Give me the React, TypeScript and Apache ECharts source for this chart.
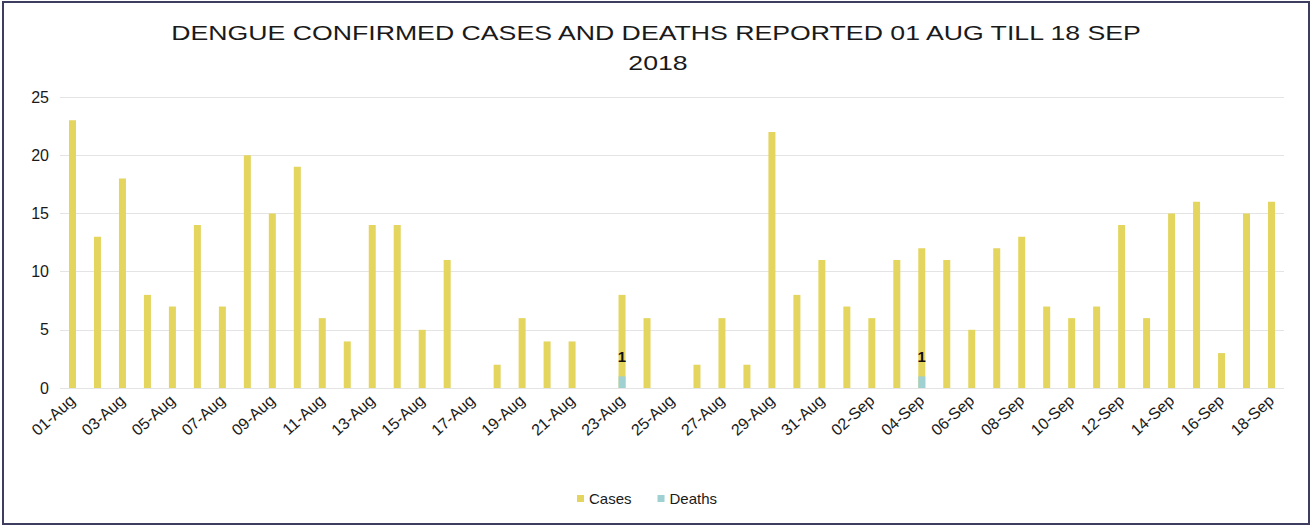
import React, { useEffect, useRef } from "react";
import * as echarts from "echarts";

const categories = [
  "01-Aug","02-Aug","03-Aug","04-Aug","05-Aug","06-Aug","07-Aug","08-Aug","09-Aug","10-Aug",
  "11-Aug","12-Aug","13-Aug","14-Aug","15-Aug","16-Aug","17-Aug","18-Aug","19-Aug","20-Aug",
  "21-Aug","22-Aug","23-Aug","24-Aug","25-Aug","26-Aug","27-Aug","28-Aug","29-Aug","30-Aug",
  "31-Aug","01-Sep","02-Sep","03-Sep","04-Sep","05-Sep","06-Sep","07-Sep","08-Sep","09-Sep",
  "10-Sep","11-Sep","12-Sep","13-Sep","14-Sep","15-Sep","16-Sep","17-Sep","18-Sep",
];

const cases = [
  23, 13, 18, 8, 7, 14, 7, 20, 15, 19,
  6, 4, 14, 14, 5, 11, 0, 2, 6, 4,
  4, 0, 8, 6, 0, 2, 6, 2, 22, 8,
  11, 7, 6, 11, 12, 11, 5, 12, 13, 7,
  6, 7, 14, 6, 15, 16, 3, 15, 16,
];

const deaths = [
  0, 0, 0, 0, 0, 0, 0, 0, 0, 0,
  0, 0, 0, 0, 0, 0, 0, 0, 0, 0,
  0, 0, 1, 0, 0, 0, 0, 0, 0, 0,
  0, 0, 0, 0, 1, 0, 0, 0, 0, 0,
  0, 0, 0, 0, 0, 0, 0, 0, 0,
];

const yTicks = { min: 0, max: 25, interval: 5 };
const titleLines = ["DENGUE CONFIRMED CASES AND DEATHS REPORTED 01 AUG TILL 18 SEP", "2018"];

export default function App() {
  const ref = useRef<HTMLDivElement>(null);
  useEffect(() => {
    if (!ref.current) return;
    const chart = echarts.init(ref.current, null, { renderer: "svg" });
    const font = "Liberation Sans, Arial, sans-serif";
    chart.setOption({
      animation: false,
      backgroundColor: "#ffffff",
      textStyle: { fontFamily: font },
      legend: {
        bottom: 16,
        left: 572,
        itemWidth: 7,
        itemHeight: 7,
        itemGap: 26,
        icon: "rect",
        textStyle: { fontFamily: font, fontSize: 15, color: "#1a1a1a" },
        data: ["Cases", "Deaths"],
      },
      grid: { left: 60, right: 28, top: 97, bottom: 139, containLabel: false },
      xAxis: {
        type: "category",
        data: categories,
        axisTick: { show: false },
        axisLine: { show: false },
        axisLabel: {
          interval: 1,
          rotate: 42,
          fontSize: 16,
          color: "#1a1a1a",
          margin: 10,
          fontFamily: font,
        },
      },
      yAxis: {
        type: "value",
        min: yTicks.min,
        max: yTicks.max,
        interval: yTicks.interval,
        axisLine: { show: false },
        axisTick: { show: false },
        axisLabel: { fontSize: 16, color: "#1a1a1a", margin: 11, fontFamily: font },
        splitLine: { lineStyle: { color: "#e4e4e4", width: 1 } },
      },
      series: [
        {
          name: "Cases",
          type: "bar",
          data: cases,
          barWidth: 7,
          barGap: "-100%",
          itemStyle: { color: "#e3d55e" },
        },
        {
          name: "Deaths",
          type: "bar",
          data: deaths,
          barWidth: 7,
          barGap: "-100%",
          itemStyle: { color: "#9fd0d2" },
          label: {
            show: true,
            position: "top",
            distance: 12,
            color: "#111",
            fontWeight: "bold",
            fontSize: 15,
            fontFamily: font,
            formatter: (p: any) => (p.value ? String(p.value) : ""),
          },
        },
      ],
      graphic: [
        {
          type: "text",
          x: 656,
          y: 33,
          scaleX: 1.27,
          silent: true,
          style: {
            text: titleLines[0],
            font: "21px Liberation Sans, Arial, sans-serif",
            fill: "#1a1a1a",
            textAlign: "center",
            textVerticalAlign: "middle",
          },
        },
        {
          type: "text",
          x: 658,
          y: 63,
          scaleX: 1.27,
          silent: true,
          style: {
            text: titleLines[1],
            font: "21px Liberation Sans, Arial, sans-serif",
            fill: "#1a1a1a",
            textAlign: "center",
            textVerticalAlign: "middle",
          },
        },
        {
          type: "rect",
          shape: { x: 3, y: 2, width: 1306, height: 522 },
          style: { fill: "none", stroke: "#3d3d60", lineWidth: 2 },
          silent: true,
          z: 100,
        },
      ],
    });
    return () => chart.dispose();
  }, []);
  return (
    <div
      ref={ref}
      style={{ position: "fixed", left: 0, top: 0, width: 1312, height: 527 }}
    />
  );
}
